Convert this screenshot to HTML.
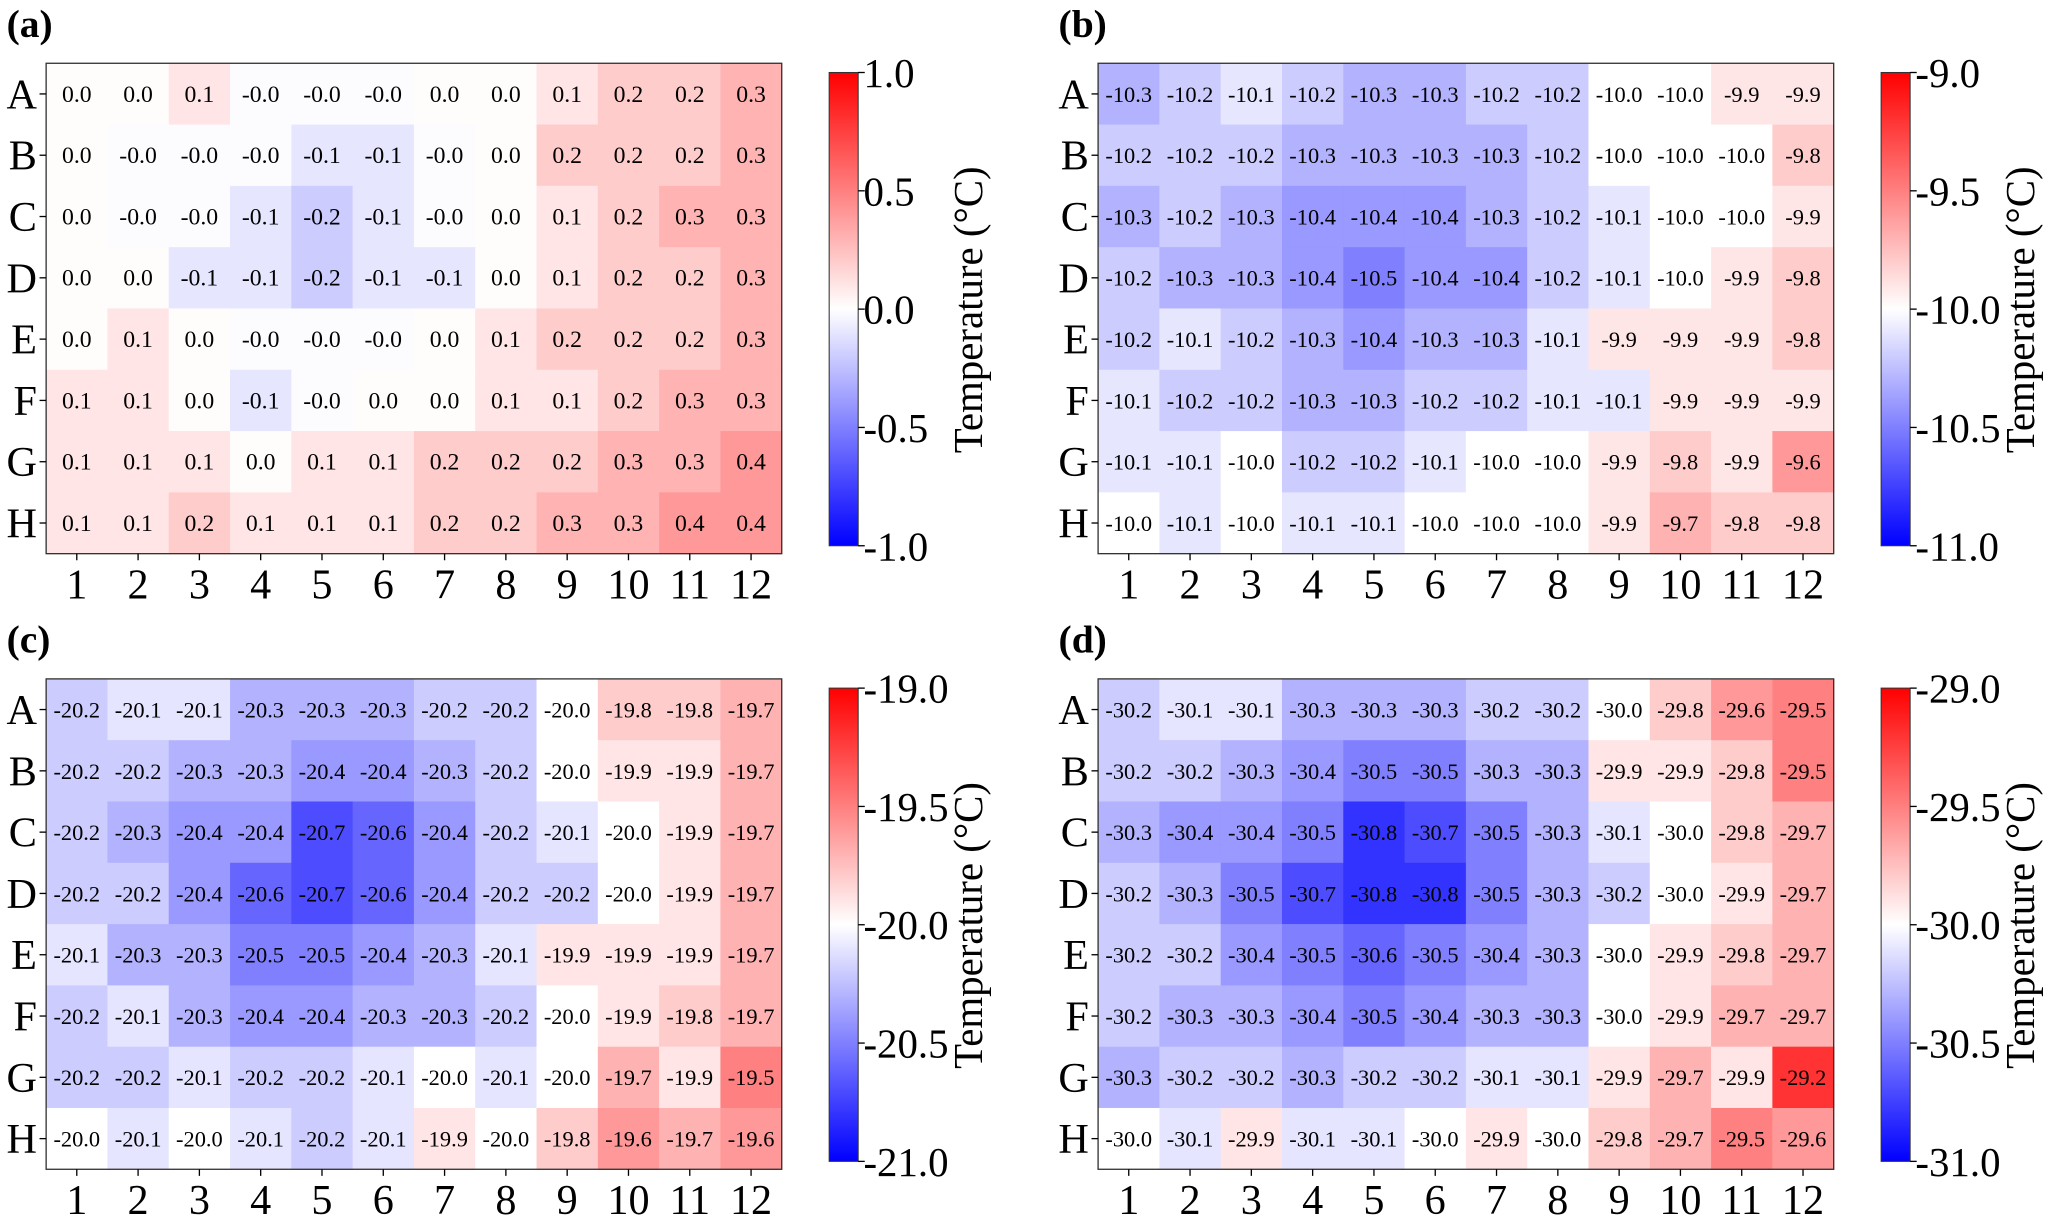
<!DOCTYPE html>
<html><head><meta charset="utf-8"><style>html,body{margin:0;padding:0;background:#fff}svg{display:block}svg text{font-family:"Liberation Serif","DejaVu Serif",serif}</style></head>
<body>
<svg id="fig" width="2067" height="1217" viewBox="0 0 1568 923.2" xmlns="http://www.w3.org/2000/svg" font-family="Liberation Serif, DejaVu Serif, serif">
<defs><linearGradient id="bwr" x1="0" y1="1" x2="0" y2="0"><stop offset="0" stop-color="#0000ff"/><stop offset="0.5" stop-color="#ffffff"/><stop offset="1" stop-color="#ff0000"/></linearGradient></defs>
</svg>
<script>
const rowLabels=["A","B","C","D","E","F","G","H"];
const colLabels=["1","2","3","4","5","6","7","8","9","10","11","12"];
const panelNames=["(a)","(b)","(c)","(d)"];
const vmins=[-1,-11,-21,-31];
const vmaxs=[1,-9,-19,-29];
const cbTicksA=[1.0,0.5,0.0,-0.5,-1.0];
const cbTicksB=[-9.0,-9.5,-10.0,-10.5,-11.0];
const cbTicksC=[-19.0,-19.5,-20.0,-20.5,-21.0];
const cbTicksD=[-29.0,-29.5,-30.0,-30.5,-31.0];
const dataA=[
[0.01,0.01,0.1,-0.01,-0.01,-0.01,0.01,0.01,0.1,0.2,0.2,0.3],
[0.01,-0.01,-0.01,-0.01,-0.1,-0.1,-0.01,0.01,0.2,0.2,0.2,0.3],
[0.01,-0.01,-0.01,-0.1,-0.2,-0.1,-0.01,0.01,0.1,0.2,0.3,0.3],
[0.01,0.01,-0.1,-0.1,-0.2,-0.1,-0.1,0.01,0.1,0.2,0.2,0.3],
[0.01,0.1,0.01,-0.01,-0.01,-0.01,0.01,0.1,0.2,0.2,0.2,0.3],
[0.1,0.1,0.01,-0.1,-0.01,0.01,0.01,0.1,0.1,0.2,0.3,0.3],
[0.1,0.1,0.1,0.01,0.1,0.1,0.2,0.2,0.2,0.3,0.3,0.4],
[0.1,0.1,0.2,0.1,0.1,0.1,0.2,0.2,0.3,0.3,0.4,0.4]];
const dataB=[
[-10.3,-10.2,-10.1,-10.2,-10.3,-10.3,-10.2,-10.2,-10.0,-10.0,-9.9,-9.9],
[-10.2,-10.2,-10.2,-10.3,-10.3,-10.3,-10.3,-10.2,-10.0,-10.0,-10.0,-9.8],
[-10.3,-10.2,-10.3,-10.4,-10.4,-10.4,-10.3,-10.2,-10.1,-10.0,-10.0,-9.9],
[-10.2,-10.3,-10.3,-10.4,-10.5,-10.4,-10.4,-10.2,-10.1,-10.0,-9.9,-9.8],
[-10.2,-10.1,-10.2,-10.3,-10.4,-10.3,-10.3,-10.1,-9.9,-9.9,-9.9,-9.8],
[-10.1,-10.2,-10.2,-10.3,-10.3,-10.2,-10.2,-10.1,-10.1,-9.9,-9.9,-9.9],
[-10.1,-10.1,-10.0,-10.2,-10.2,-10.1,-10.0,-10.0,-9.9,-9.8,-9.9,-9.6],
[-10.0,-10.1,-10.0,-10.1,-10.1,-10.0,-10.0,-10.0,-9.9,-9.7,-9.8,-9.8]];
const dataC=[
[-20.2,-20.1,-20.1,-20.3,-20.3,-20.3,-20.2,-20.2,-20.0,-19.8,-19.8,-19.7],
[-20.2,-20.2,-20.3,-20.3,-20.4,-20.4,-20.3,-20.2,-20.0,-19.9,-19.9,-19.7],
[-20.2,-20.3,-20.4,-20.4,-20.7,-20.6,-20.4,-20.2,-20.1,-20.0,-19.9,-19.7],
[-20.2,-20.2,-20.4,-20.6,-20.7,-20.6,-20.4,-20.2,-20.2,-20.0,-19.9,-19.7],
[-20.1,-20.3,-20.3,-20.5,-20.5,-20.4,-20.3,-20.1,-19.9,-19.9,-19.9,-19.7],
[-20.2,-20.1,-20.3,-20.4,-20.4,-20.3,-20.3,-20.2,-20.0,-19.9,-19.8,-19.7],
[-20.2,-20.2,-20.1,-20.2,-20.2,-20.1,-20.0,-20.1,-20.0,-19.7,-19.9,-19.5],
[-20.0,-20.1,-20.0,-20.1,-20.2,-20.1,-19.9,-20.0,-19.8,-19.6,-19.7,-19.6]];
const dataD=[
[-30.2,-30.1,-30.1,-30.3,-30.3,-30.3,-30.2,-30.2,-30.0,-29.8,-29.6,-29.5],
[-30.2,-30.2,-30.3,-30.4,-30.5,-30.5,-30.3,-30.3,-29.9,-29.9,-29.8,-29.5],
[-30.3,-30.4,-30.4,-30.5,-30.8,-30.7,-30.5,-30.3,-30.1,-30.0,-29.8,-29.7],
[-30.2,-30.3,-30.5,-30.7,-30.8,-30.8,-30.5,-30.3,-30.2,-30.0,-29.9,-29.7],
[-30.2,-30.2,-30.4,-30.5,-30.6,-30.5,-30.4,-30.3,-30.0,-29.9,-29.8,-29.7],
[-30.2,-30.3,-30.3,-30.4,-30.5,-30.4,-30.3,-30.3,-30.0,-29.9,-29.7,-29.7],
[-30.3,-30.2,-30.2,-30.3,-30.2,-30.2,-30.1,-30.1,-29.9,-29.7,-29.9,-29.2],
[-30.0,-30.1,-29.9,-30.1,-30.1,-30.0,-29.9,-30.0,-29.8,-29.7,-29.5,-29.6]];
const allData=[dataA,dataB,dataC,dataD];
const allTicks=[cbTicksA,cbTicksB,cbTicksC,cbTicksD];

const NS="http://www.w3.org/2000/svg";
const svg=document.getElementById("fig");
const FF="Liberation Serif, DejaVu Serif, serif";
function mk(tag,attrs,parent,txt){const e=document.createElementNS(NS,tag);for(const k in attrs)e.setAttribute(k,attrs[k]);if(tag==="text")e.setAttribute("font-family",FF);if(txt!==undefined)e.textContent=txt;(parent||svg).appendChild(e);return e;}
function bwr(t){t=Math.max(0,Math.min(1,t));let r,g,b;if(t<0.5){r=g=Math.round(2*t*255);b=255;}else{r=255;g=b=Math.round((2-2*t)*255);}return `rgb(${r},${g},${b})`;}
const offs=[[0,0],[798,0],[0,467],[798,467]];
const HX=35,HW=558,HY=48,HH=372,CBX=629,CBW=22,CBY=55,CBH=359;
for(let p=0;p<4;p++){
  const [ox,oy]=offs[p],data=allData[p],vmin=vmins[p],vmax=vmaxs[p];
  const g=mk("g",{});
  
  
  const cw=HW/colLabels.length,rh=HH/rowLabels.length;
  const xs=j=>ox+HX+j*cw, ys=i=>oy+HY+i*rh;
  const lab=mk("text",{x:ox+5,y:oy+28,"font-size":30,"font-weight":"bold"},g,panelNames[p]);
  
  
  for(let i=0;i<data.length;i++)for(let j=0;j<data[i].length;j++){
    const v=data[i][j];
    const r=mk("rect",{x:xs(j),y:ys(i),width:cw+0.5,height:rh+0.5,fill:bwr((v-vmin)/(vmax-vmin))},g);
    
    
    const t=mk("text",{x:xs(j)+cw/2,y:ys(i)+rh/2+6,"font-size":p==0?18:17,"text-anchor":"middle",fill:"#000"},g,v.toFixed(1));
    
    
  }
  mk("rect",{x:ox+HX,y:oy+HY,width:HW,height:HH,fill:"none",stroke:"#333","stroke-width":1},g);
  rowLabels.forEach((l,i)=>{
    const yc=ys(i)+rh/2;
    mk("line",{x1:ox+HX-5,x2:ox+HX,y1:yc,y2:yc,stroke:"#000"},g);
    const t=mk("text",{x:ox+HX-7,y:yc+11,"font-size":32,"text-anchor":"end"},g,l);
    
    
  });
  colLabels.forEach((l,j)=>{
    const xc=xs(j)+cw/2;
    mk("line",{x1:xc,x2:xc,y1:oy+HY+HH,y2:oy+HY+HH+5,stroke:"#000"},g);
    const t=mk("text",{x:xc,y:oy+HY+HH+34,"font-size":32,"text-anchor":"middle"},g,l);
    
    
  });
  const cb=mk("rect",{x:ox+CBX,y:oy+CBY,width:CBW,height:CBH,fill:"url(#bwr)",stroke:"#333","stroke-width":0.8},g);
  
  
  allTicks[p].forEach(tv=>{
    const yy=oy+CBY+CBH*(vmax-tv)/(vmax-vmin);
    mk("line",{x1:ox+CBX+CBW,x2:ox+CBX+CBW+5,y1:yy,y2:yy,stroke:"#000"},g);
    const t=mk("text",{x:ox+CBX+CBW+4,y:yy+11,"font-size":31},g,tv.toFixed(1));
    
    
  });
  const cx=ox+745, cy=oy+235;
  const tl=mk("text",{x:cx,y:cy,"font-size":31,"text-anchor":"middle",transform:`rotate(-90 ${cx} ${cy})`},g,"Temperature (°C)");
  
  
}
</script>
</body></html>
